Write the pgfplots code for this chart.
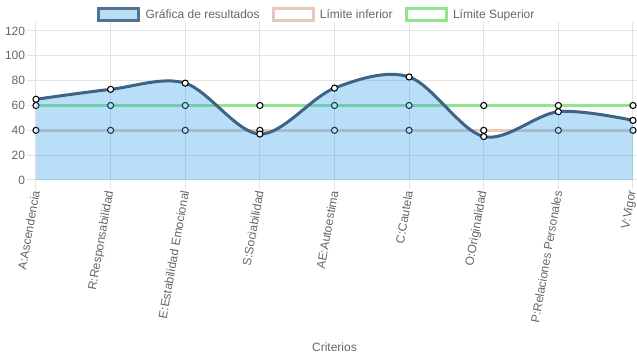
\documentclass[border=0pt]{standalone}
\usepackage{pgfplots}
\pgfplotsset{compat=1.18}
\usepackage{fontspec}
\setmainfont{Liberation Sans}
\definecolor{resline}{HTML}{3E6385}
\definecolor{fillblue}{HTML}{36A2EB}
\definecolor{lowline}{HTML}{E7C9BA}
\definecolor{upline}{HTML}{8FE68B}
\definecolor{gridgray}{HTML}{E3E3E3}
\definecolor{labgray}{HTML}{666666}
\newcommand{\lab}{\fontsize{9}{10.5}\selectfont}
\begin{document}
\begin{tikzpicture}
\path[use as bounding box] (0,0) rectangle (477.75pt,-269.25pt);
\begin{axis}[
  at={(27pt,-135pt)}, anchor=south west,
  scale only axis, width=447.75pt, height=111.75pt,
  xmin=0, xmax=8, ymin=0, ymax=120,
  xtick={0,...,8},
  xticklabels={A:Ascendencia, R:Responsabilidad, E:Estabilidad Emocional, S:Sociabilidad, AE:Autoestima, C:Cautela, O:Originalidad, P:Relaciones Personales, V:Vigor},
  ytick={0,20,...,120},
  grid=major, grid style={draw=gridgray, line width=0.75pt},
  axis line style={draw=gridgray, line width=0.75pt},
  tick align=outside, major tick length=7pt,
  tick style={draw=gridgray, line width=0.75pt},
  x tick label style={rotate=80, anchor=east, font=\lab, text=labgray, inner sep=1pt},
  y tick label style={font=\lab, text=labgray, inner sep=1pt},
  /pgf/number format/assume math mode=true,
  xlabel={Criterios},
  xlabel style={at={(0.5,0)}, anchor=center, yshift=-125.25pt, font=\lab, text=labgray},
  clip mode=individual,
  reverse legend, legend columns=3,
  legend style={draw=none, fill=none, at={(0.5,1)}, anchor=center, yshift=12pt, xshift=-13pt,
    font=\lab, text=labgray, inner sep=0pt,
    /tikz/every even column/.append style={column sep=7pt},
    /tikz/every odd column/.append style={column sep=2pt}},
  legend cell align=left,
]
% upper limit
\addplot[upline, line width=2.25pt, mark=*, mark size=2.3pt,
  mark options={fill=white, draw=black, line width=0.8pt},
  legend image code/.code={\draw[draw=upline, fill=white, line width=2.25pt] (0pt,-4.5pt) rectangle (30pt,4.5pt);}]
  table {
0 60
1 60
2 60
3 60
4 60
5 60
6 60
7 60
8 60
};
\addlegendentry{Límite Superior}
% lower limit
\addplot[lowline, line width=2.25pt, mark=*, mark size=2.3pt,
  mark options={fill=white, draw=black, line width=0.8pt},
  legend image code/.code={\draw[draw=lowline, fill=white, line width=2.25pt] (0pt,-4.5pt) rectangle (30pt,4.5pt);}]
  table {
0 40
1 40
2 40
3 40
4 40
5 40
6 40
7 40
8 40
};
\addlegendentry{Límite inferior}
% fill of results
\addplot[draw=none, fill=fillblue, fill opacity=0.35, smooth, tension=0.55, forget plot]
  table {
0 65
1 73
2 78
3 37
4 74
5 83
6 35
7 55
8 48
} \closedcycle;
% results line
\addplot[resline, line width=2.25pt, smooth, tension=0.55, mark=*, mark size=2.3pt,
  mark options={fill=white, draw=black, line width=0.8pt},
  legend image code/.code={\draw[draw=resline!90, fill=fillblue!35, line width=2.25pt] (0pt,-4.5pt) rectangle (30pt,4.5pt);}]
  table {
0 65
1 73
2 78
3 37
4 74
5 83
6 35
7 55
8 48
};
\addlegendentry{Gráfica de resultados}
\end{axis}
\end{tikzpicture}
\end{document}
